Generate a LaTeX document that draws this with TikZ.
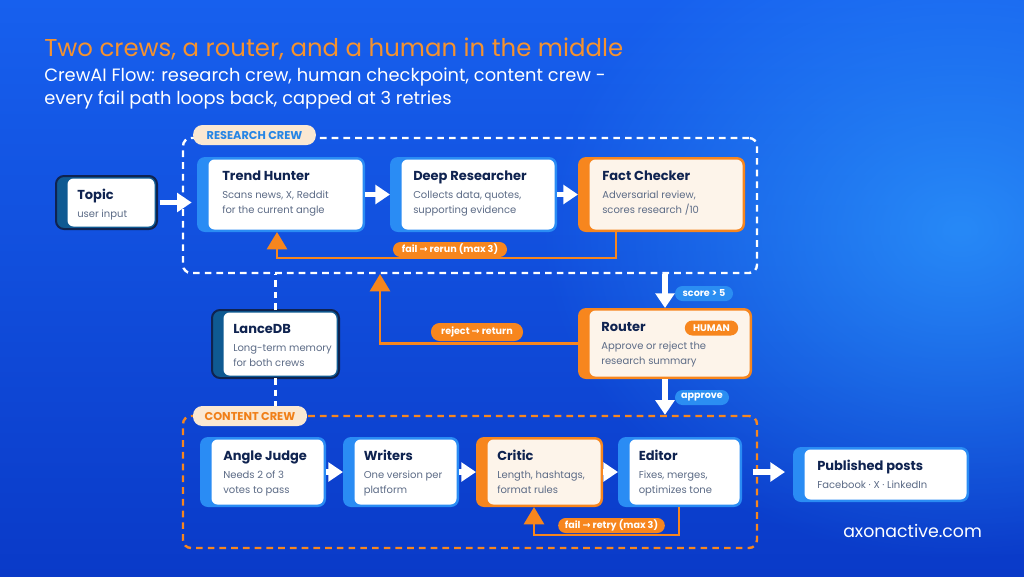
\documentclass[tikz,border=0pt]{standalone}
\usepackage{fontspec}
\setmainfont{Poppins}
\newfontfamily\djv{DejaVu Sans}
\usetikzlibrary{arrows.meta,fadings}
\tikzfading[name=glowfade, inner color=transparent!0, outer color=transparent!100]
\definecolor{orng}{HTML}{F7861E}
\definecolor{ttlorng}{HTML}{F5922F}
\definecolor{navy}{HTML}{0F2350}
\definecolor{greytxt}{HTML}{5C6B86}
\definecolor{cblue}{HTML}{2A8CF4}
\definecolor{pblue}{HTML}{2B8EF2}
\definecolor{cream}{HTML}{FDF4EA}
\definecolor{pcream}{HTML}{FAE8D2}
\definecolor{stripe}{HTML}{0F5A92}
\definecolor{rctext}{HTML}{2585E5}
\definecolor{cctext}{HTML}{F07F18}
\definecolor{bgtop}{HTML}{1760EE}
\definecolor{bgbot}{HTML}{0A3AC8}
\definecolor{glow}{HTML}{2E9CFF}
\newcommand\kblue{\def\cacc{cblue}\def\cin{white}\def\cdraw{none}\def\ctx{24}}
\newcommand\korange{\def\cacc{orng}\def\cin{cream}\def\cdraw{none}\def\ctx{24}}
\newcommand\kdark{\def\cacc{stripe}\def\cin{white}\def\cdraw{navy}\def\ctx{21}}
\tikzset{
  ttl/.style={anchor=base west, inner sep=0, font=\fontsize{9.75}{11}\selectfont\bfseries, text=navy},
  bdy/.style={anchor=base west, inner sep=0, font=\fontsize{7.5}{9}\selectfont, text=greytxt},
  warrow/.style={draw=white, line width=4pt, -{Triangle[width=14pt,length=11pt]}},
  oarrow/.style={draw=orng, line width=2.2pt, -{Triangle[width=15pt,length=13pt]}},
  pill/.style={rounded corners=5.6pt, inner sep=0, minimum height=11.25pt, font=\fontsize{7.2}{8}\selectfont\bfseries, text=white},
  crewlab/.style={pill, fill=pcream, minimum height=15pt, rounded corners=7pt, font=\fontsize{8.5}{9}\selectfont\bfseries},
  crewbox/.style={rounded corners=6pt, line width=1.8pt, dash pattern=on 5pt off 3.8pt, inner sep=0},
  memlink/.style={white, line width=1.8pt, dash pattern=on 5pt off 3.8pt},
}
\newcommand\mkcard[9]{%
  #6%
  \node[inner sep=0, outer sep=0, rounded corners=6pt, fill=\cacc, draw=\cdraw, line width=1.5pt,
        minimum width={(#4-#2)*0.75pt}, minimum height={(#5-#3)*0.75pt}] (#1) at ({(#2+#4)/2},{(#3+#5)/2}) {};
  \fill[\cin, rounded corners=4.5pt] (#2+11.5,#3+2.5) rectangle (#4-2.5,#5-2.5);
  \node[ttl] at (#2+\ctx,#3+23.5) {#7};
  \node[bdy] at (#2+\ctx,#3+41.5) {#8};
  \node[bdy] at (#2+\ctx,#3+56.5) {#9};
}
\begin{document}
\begin{tikzpicture}[x=0.75pt,y=-0.75pt]
\useasboundingbox (0,0) rectangle (1024,576);
% background
\shade[top color=bgtop, bottom color=bgbot] (0,0) rectangle (1024,576);
\fill[glow, path fading=glowfade, opacity=0.75] (960,230) ellipse (420 and 330);
\clip (0,0) rectangle (1024,576);

% titles
\node[anchor=base west, inner sep=0, text=ttlorng, font=\fontsize{18.3}{20}\selectfont] (title) at (44,56) {Two crews, a router, and a human in the middle};
\node[anchor=base west, inner sep=0, text=white, font=\fontsize{13.4}{16}\selectfont] (sub1) at (44,81) {CrewAI Flow: research crew, human checkpoint, content crew -};
\node[anchor=base west, inner sep=0, text=white, font=\fontsize{13.4}{16}\selectfont] (sub2) at (44,104) {every fail path loops back, capped at 3 retries};

% crew boxes
\node[crewbox, draw=white, minimum width={574*0.75pt}, minimum height={135*0.75pt}] (rc) at (470,205.5) {};
\node[crewbox, draw=orng, minimum width={574*0.75pt}, minimum height={132*0.75pt}] (cc) at (470,482) {};

% cards
\mkcard{topic}{56}{176}{157}{229}{\kdark}{Topic}{user input}{}
\mkcard{th}{197}{157}{365}{232}{\kblue\def\ctx{25}}{Trend Hunter}{Scans news, X, Reddit}{for the current angle}
\mkcard{dr}{390}{157}{557}{232}{\kblue\def\ctx{23}}{Deep Researcher}{Collects data, quotes,}{supporting evidence}
\mkcard{fc}{578}{157}{745}{232}{\korange}{Fact Checker}{Adversarial review,}{scores research /10}
\mkcard{router}{578}{308}{752}{379}{\korange\def\ctx{23}}{Router}{Approve or reject the}{research summary}
\mkcard{ldb}{212}{310}{339}{378}{\kdark}{LanceDB}{Long-term memory}{for both crews}
\mkcard{aj}{200}{437}{326}{507}{\kblue\def\ctx{23}}{Angle Judge}{Needs 2 of 3}{votes to pass}
\mkcard{wr}{343}{437}{459}{507}{\kblue\def\ctx{20.5}}{Writers}{One version per}{platform}
\mkcard{cr}{476}{437}{603}{507}{\korange\def\ctx{21}}{Critic}{Length, hashtags,}{format rules}
\mkcard{ed}{618}{437}{742}{507}{\kblue\def\ctx{20.5}}{Editor}{Fixes, merges,}{optimizes tone}
\mkcard{pub}{793}{447}{969}{502}{\kblue}{Published posts}{Facebook · X · LinkedIn}{}

% white arrows
\draw[warrow, shorten <=2pt, shorten >=4pt] (topic.east) -- (topic.east -| th.west);
\draw[warrow] (th.east) -- (dr.west);
\draw[warrow] (dr.east) -- (fc.west);
\draw[warrow] (aj.east) -- (wr.west);
\draw[warrow] (wr.east) -- (cr.west);
\draw[warrow] (cr.east) -- (ed.west);
\draw[warrow, shorten <=8pt, shorten >=6pt] (ed.east) -- (ed.east -| pub.west);
\draw[warrow] (router.north |- rc.south) -- (router.north);
\draw[warrow] (router.south) -- (router.south |- cc.north);

% dashed memory links
\draw[memlink] (ldb.north) -- (ldb.north |- rc.south);
\draw[memlink] (ldb.south) -- (ldb.south |- cc.north);

% orange loops
\coordinate (f1) at (616,258);
\coordinate (f2) at (277,258);
\draw[oarrow] (f1 |- fc.south) -- (f1) -- (f2) -- (f2 |- th.south);
\coordinate (rj) at (380,274);
\draw[oarrow] (router.west) -| (rj);
\coordinate (g1) at (679,535);
\coordinate (g2) at (534,535);
\draw[oarrow] (g1 |- ed.south) -- (g1) -- (g2) -- (g2 |- cr.south);

% pills
\node[crewlab, text=rctext, minimum width=92pt] (rclab) at (254.5,135) {RESEARCH CREW};
\node[crewlab, text=cctext, minimum width=85.5pt] (cclab) at (250,416) {CONTENT CREW};
\node[pill, fill=orng, minimum width=85.5pt] (lfail1) at (450,249.5) {fail {\djv →} rerun (max 3)};
\node[pill, fill=pblue, minimum width=43.5pt] (lscore) at (704,293.5) {score > 5};
\node[pill, fill=orng, minimum width=40pt] (lhuman) at (711.5,328) {HUMAN};
\node[pill, fill=orng, minimum width=69pt, minimum height=13.5pt, rounded corners=6.5pt] (lreject) at (477,332) {reject {\djv →} return};
\node[pill, fill=pblue, minimum width=40.5pt] (lapprove) at (702,397.5) {approve};
\node[pill, fill=orng, minimum width=80pt] (lfail2) at (611.5,525.5) {fail {\djv →} retry (max 3)};

% footer
\node[anchor=base west, inner sep=0, text=white, font=\fontsize{13}{16}\selectfont] (brand) at (843,537) {axonactive.com};
\end{tikzpicture}
\end{document}
